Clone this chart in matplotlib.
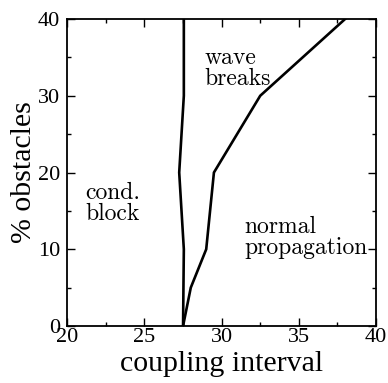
import matplotlib
matplotlib.use("Agg")
import matplotlib.pyplot as plt
from matplotlib.ticker import MultipleLocator

# Data
left_x = [27.5, 27.55, 27.25, 27.55, 27.55]
left_y = [0, 10, 20, 30, 40]
right_x = [27.5, 28.0, 29.0, 29.5, 32.5, 38.0]
right_y = [0, 5, 10, 20, 30, 40]
xticks = [20, 25, 30, 35, 40]
yticks = [0, 10, 20, 30, 40]

serif = ['Liberation Serif', 'DejaVu Serif']
cm = ['cmr10', 'DejaVu Serif']

fig = plt.figure(figsize=(3.88, 3.83), dpi=100)
ax = fig.add_axes([0.1735, 0.1488, 0.969 - 0.1735, 0.9504 - 0.1488])

ax.plot(left_x, left_y, color='black', lw=1.9, solid_joinstyle='miter')
ax.plot(right_x, right_y, color='black', lw=1.9, solid_joinstyle='miter')

ax.set_xlim(20, 40)
ax.set_ylim(0, 40)
ax.set_xticks(xticks)
ax.set_yticks(yticks)
ax.xaxis.set_minor_locator(MultipleLocator(2.5))
ax.yaxis.set_minor_locator(MultipleLocator(5))
ax.tick_params(which='both', direction='in', top=True, right=True, width=1.0)
ax.tick_params(which='major', length=6, labelsize=16)
ax.tick_params(axis='x', which='major', pad=1.5)
ax.tick_params(axis='y', which='major', pad=5)
ax.tick_params(which='minor', length=3)
for lab in ax.get_xticklabels() + ax.get_yticklabels():
    lab.set_family(serif)
for s in ax.spines.values():
    s.set_linewidth(1.3)

ax.set_xlabel('coupling interval', fontsize=21.5, family=serif, labelpad=2.5)
ax.set_ylabel('% obstacles', fontsize=21.5, family=serif, labelpad=1)

ax.text(28.88, 31.4, 'wave\nbreaks', fontsize=17, family=cm,
        ha='left', va='baseline', linespacing=0.95)
ax.text(21.15, 13.8, 'cond.\nblock', fontsize=17, family=cm,
        ha='left', va='baseline', linespacing=0.95)
ax.text(31.47, 9.4, 'normal\npropagation', fontsize=17, family=cm,
        ha='left', va='baseline', linespacing=0.95)

fig.savefig('out.png', dpi=100)
